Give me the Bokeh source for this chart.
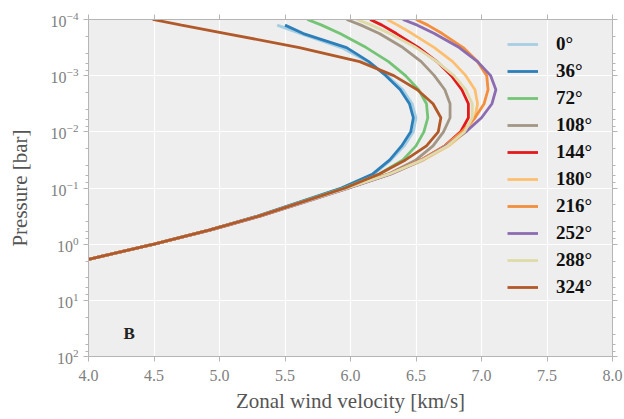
from bokeh.plotting import figure
from bokeh.models import (Range1d, FixedTicker, PrintfTickFormatter, LinearAxis,
                          LogAxis, LogTicker, CustomJSTickFormatter)
from bokeh.core.properties import value
from bokeh.embed import file_html
from bokeh.resources import INLINE

nan = float("nan")

# Pressure levels [bar], top of the atmosphere first
pressure_bar = [1.0e-4, 1.26e-4, 1.78e-4, 3.16e-4, 5.62e-4, 1.0e-3, 1.78e-3,
                3.16e-3, 5.62e-3, 1.0e-2, 1.78e-2, 3.16e-2, 5.62e-2, 0.1,
                0.178, 0.316, 0.562, 1.0, 1.86]

longitudes = ["0°", "36°", "72°", "108°", "144°", "180°", "216°", "252°", "288°", "324°"]

# Zonal wind velocity [km/s] at each pressure level, one profile per longitude
wind_000 = [nan, 5.44, 5.62, 5.93, 6.13, 6.28, 6.40, 6.47, 6.50, 6.48, 6.41, 6.31, 6.18, 5.94, 5.61, 5.29, 4.92, 4.50, 4.00]
wind_036 = [nan, 5.50, 5.64, 5.97, 6.14, 6.27, 6.38, 6.45, 6.48, 6.46, 6.39, 6.30, 6.17, 5.93, 5.61, 5.29, 4.92, 4.50, 4.00]
wind_072 = [5.67, 5.78, 5.92, 6.12, 6.29, 6.42, 6.52, 6.58, 6.59, 6.56, 6.50, 6.40, 6.22, 5.95, 5.62, 5.30, 4.92, 4.50, 4.00]
wind_108 = [5.97, 6.08, 6.22, 6.40, 6.54, 6.64, 6.72, 6.76, 6.76, 6.71, 6.63, 6.50, 6.29, 5.97, 5.63, 5.30, 4.92, 4.50, 4.00]
wind_144 = [6.15, 6.24, 6.35, 6.52, 6.66, 6.77, 6.85, 6.90, 6.90, 6.84, 6.72, 6.54, 6.30, 5.98, 5.64, 5.30, 4.92, 4.50, 4.00]
wind_180 = [6.28, 6.36, 6.47, 6.64, 6.78, 6.88, 6.95, 6.97, 6.95, 6.88, 6.75, 6.56, 6.31, 5.98, 5.64, 5.31, 4.93, 4.50, 4.00]
wind_216 = [6.50, 6.59, 6.70, 6.86, 6.97, 7.04, 7.05, 7.02, 6.95, 6.85, 6.72, 6.54, 6.30, 5.98, 5.64, 5.31, 4.93, 4.50, 4.00]
wind_252 = [6.40, 6.51, 6.64, 6.83, 6.97, 7.07, 7.11, 7.08, 7.00, 6.88, 6.73, 6.55, 6.31, 5.99, 5.65, 5.31, 4.93, 4.50, 4.00]
wind_288 = [6.05, 6.16, 6.30, 6.50, 6.66, 6.79, 6.88, 6.93, 6.93, 6.87, 6.74, 6.55, 6.30, 5.98, 5.64, 5.30, 4.92, 4.50, 4.00]
wind_324 = [4.49, 4.71, 5.05, 5.61, 6.07, 6.33, 6.51, 6.63, 6.69, 6.67, 6.58, 6.42, 6.22, 5.96, 5.63, 5.30, 4.92, 4.50, 4.00]

profiles = [wind_000, wind_036, wind_072, wind_108, wind_144,
            wind_180, wind_216, wind_252, wind_288, wind_324]

colors = ["#a6cee3", "#2c7fb8", "#74c476", "#a39685", "#e31a1c",
          "#fdbf6f", "#f28e3c", "#8c6bb1", "#dedba8", "#b15928"]

x_ticks = [4.0, 4.5, 5.0, 5.5, 6.0, 6.5, 7.0, 7.5, 8.0]
y_ticks = [1e-4, 1e-3, 1e-2, 1e-1, 1e0, 1e1, 1e2]

SERIF = "Liberation Serif"
SPINE = "#b5b5b5"

p = figure(width=624, height=419, y_axis_type="log",
           x_range=Range1d(4.0, 8.0), y_range=Range1d(100, 1e-4),
           output_backend="svg", toolbar_location=None,
           min_border_left=88, min_border_right=12,
           min_border_top=19, min_border_bottom=63)

p.background_fill_color = "#eeeeee"
p.border_fill_color = "white"
p.outline_line_color = None

for lon, vel, col in zip(longitudes, profiles, colors):
    p.line(vel, pressure_bar, line_color=col, line_width=2.8, legend_label=lon)

p.text(x=[4.31], y=[39], text=["B"], text_font=value(SERIF),
       text_font_size="17px", text_font_style="bold", text_color="#222222",
       text_align="center", text_baseline="middle")

# Axes: labelled bottom/left, tick-only top/right
bottom_axis = p.below[0]
left_axis = p.left[0]

bottom_axis.ticker = FixedTicker(ticks=x_ticks)
bottom_axis.formatter = PrintfTickFormatter(format="%.1f")
left_axis.ticker = LogTicker()
bottom_axis.axis_label = "Zonal wind velocity [km/s]"
left_axis.axis_label = "Pressure [bar]"

top_axis = LinearAxis(ticker=FixedTicker(ticks=x_ticks),
                      formatter=CustomJSTickFormatter(code="return ''"))
right_axis = LogAxis(ticker=LogTicker(),
                     formatter=CustomJSTickFormatter(code="return ''"))
p.add_layout(top_axis, "above")
p.add_layout(right_axis, "right")

for ax in [bottom_axis, left_axis, top_axis, right_axis]:
    ax.axis_line_color = SPINE
    ax.major_tick_line_color = SPINE
    ax.minor_tick_line_color = SPINE
    ax.major_tick_in = 0
    ax.major_tick_out = 5
    ax.minor_tick_in = 0
    ax.minor_tick_out = 3
    ax.major_label_text_font = SERIF
    ax.major_label_text_font_size = "16px"
    ax.major_label_text_color = "#808080"
    ax.axis_label_text_font = SERIF
    ax.axis_label_text_font_size = "21px"
    ax.axis_label_text_font_style = "normal"
    ax.axis_label_text_color = "#555555"

for ax in [bottom_axis, top_axis]:
    ax.minor_tick_line_color = None
top_axis.major_label_standoff = 0
right_axis.major_label_standoff = 0
bottom_axis.major_label_standoff = 8
bottom_axis.axis_label_standoff = 5
left_axis.axis_label_standoff = 16

# Grid
p.xgrid.ticker = FixedTicker(ticks=x_ticks)
p.ygrid.ticker = FixedTicker(ticks=y_ticks)
p.grid.grid_line_color = "white"
p.grid.grid_line_width = 1.2

# Legend
lg = p.legend[0]
lg.location = (419, 57)
lg.background_fill_alpha = 0
lg.border_line_color = None
lg.label_text_font = SERIF
lg.label_text_font_size = "19px"
lg.label_text_font_style = "bold"
lg.label_text_color = "#111111"
lg.glyph_width = 31
lg.glyph_height = 24
lg.label_height = 24
lg.spacing = 3
lg.label_standoff = 18
lg.padding = 10

open("out.html", "w").write(file_html(p, INLINE))
